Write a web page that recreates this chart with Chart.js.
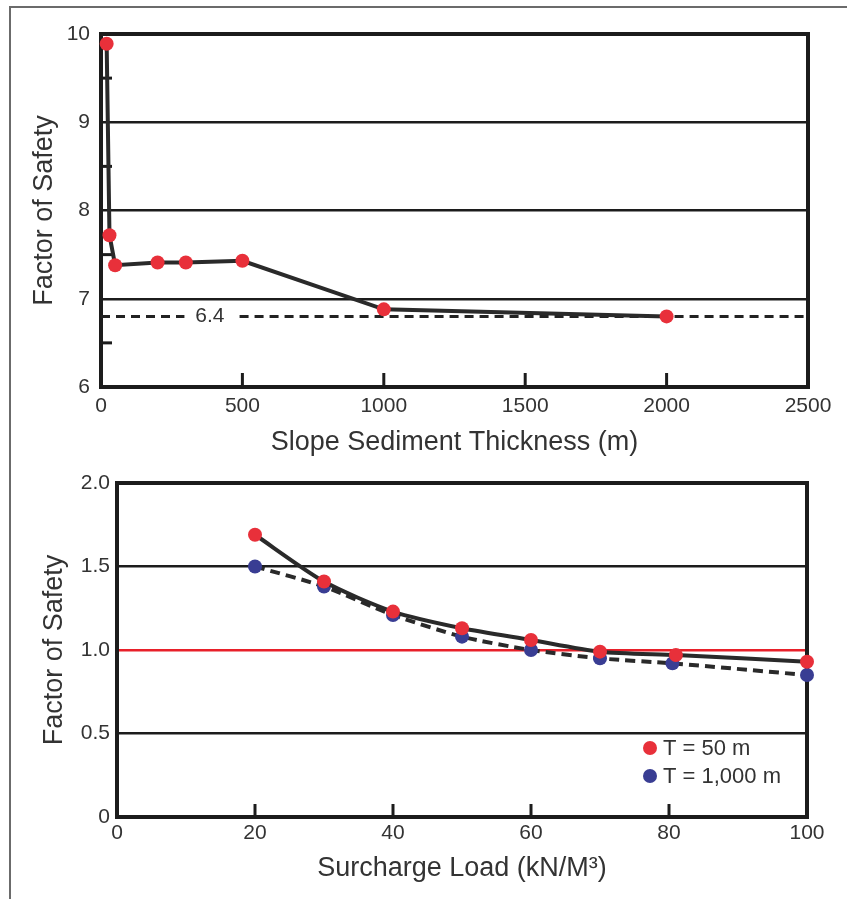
<!DOCTYPE html>
<html><head><meta charset="utf-8">
<script src="https://cdn.jsdelivr.net/npm/chart.js@4/dist/chart.umd.min.js"></script>
<style>
html,body{margin:0;padding:0;background:#fff;}
body{width:847px;height:899px;position:relative;overflow:hidden;}
#frame{position:absolute;left:9px;top:6px;width:860px;height:900px;border-left:2px solid #6b6b6b;border-top:2px solid #6b6b6b;}
#c1{position:absolute;left:0;top:0;}
#c2{position:absolute;left:0;top:460px;}
</style></head><body>
<div id="frame"></div>
<canvas id="c1" width="847" height="460"></canvas>
<canvas id="c2" width="847" height="439"></canvas>
<script>
// ---------- data: top chart ----------
const thicknessM  = [20, 30, 50, 200, 300, 500, 1000, 2000];
const thicknessFS = [9.89, 7.72, 7.38, 7.41, 7.41, 7.43, 6.88, 6.80];
const thresholdFS = 6.8;
const thresholdLabel = '6.4';
const thresholdLabelX = 385;
const thresholdSegments = [[0, 295], [490, 2500]];
const topXTicks = [0, 500, 1000, 1500, 2000, 2500];
const topInnerXTicks = [500, 1000, 1500, 2000];
const topYTicks = [6, 7, 8, 9, 10];
const topMinorYTicks = [6.5, 7.5, 8.5, 9.5];

// ---------- data: bottom chart ----------
const seriesNames = ['T = 50 m', 'T = 1,000 m'];
const loadT50  = [20, 30, 40, 50, 60, 70, 81, 100];
const fsT50    = [1.69, 1.41, 1.23, 1.13, 1.06, 0.99, 0.97, 0.93];
const loadT1000 = [20, 30, 40, 50, 60, 70, 80.5, 100];
const fsT1000   = [1.50, 1.38, 1.21, 1.08, 1.00, 0.95, 0.92, 0.85];
const criticalFS = 1.0;
const bottomXTicks = [0, 20, 40, 60, 80, 100];
const bottomInnerXTicks = [20, 40, 60, 80];
const bottomYTicks = [0, 0.5, 1.0, 1.5, 2.0];

const FONT = '"Liberation Sans", Arial, Helvetica, sans-serif';
const TXT = '#333333';
const INK = '#1c1c1c';
const RED = '#e8303a';
const BLUE = '#393d93';

function framePlugin(opts) {
  return {
    id: 'frameTicks',
    beforeDatasetsDraw(chart) {
      const {ctx, chartArea: a, scales} = chart;
      ctx.save();
      ctx.strokeStyle = INK;
      ctx.lineWidth = 3;
      (opts.innerX || []).forEach(v => {
        const px = scales.x.getPixelForValue(v);
        ctx.beginPath(); ctx.moveTo(px, a.bottom); ctx.lineTo(px, a.bottom - opts.xTickLen); ctx.stroke();
      });
      (opts.minorY || []).forEach(v => {
        const py = scales.y.getPixelForValue(v);
        ctx.beginPath(); ctx.moveTo(a.left, py); ctx.lineTo(a.left + opts.yTickLen, py); ctx.stroke();
      });
      ctx.lineWidth = 4;
      ctx.strokeRect(a.left, a.top, a.right - a.left, a.bottom - a.top);
      if (opts.label) {
        ctx.fillStyle = TXT;
        ctx.font = '21px ' + FONT;
        ctx.textAlign = 'center';
        ctx.textBaseline = 'middle';
        ctx.fillText(opts.label.text, scales.x.getPixelForValue(opts.label.x), scales.y.getPixelForValue(opts.label.y));
      }
      ctx.restore();
    }
  };
}

const legendPlugin = {
  id: 'innerLegend',
  afterDatasetsDraw(chart) {
    const {ctx, chartArea: a} = chart;
    ctx.save();
    ctx.font = '22px ' + FONT;
    ctx.textAlign = 'left';
    ctx.textBaseline = 'middle';
    chart.data.datasets.forEach((ds, i) => {
      const cx = a.right - 157, cy = a.bottom - 69 + i * 28;
      ctx.fillStyle = ds.pointBackgroundColor;
      ctx.beginPath(); ctx.arc(cx, cy, 7, 0, Math.PI * 2); ctx.fill();
      ctx.fillStyle = TXT;
      ctx.fillText(ds.label, cx + 13, cy + 1);
    });
    ctx.restore();
  }
};

// ---------- top chart ----------
const thresholdData = [];
thresholdSegments.forEach((s, i) => {
  if (i > 0) thresholdData.push({x: thresholdLabelX, y: null});
  thresholdData.push({x: s[0], y: thresholdFS}, {x: s[1], y: thresholdFS});
});

new Chart(document.getElementById('c1'), {
  type: 'line',
  data: {
    datasets: [
      {
        label: 'Factor of Safety',
        data: thicknessM.map((x, i) => ({x, y: thicknessFS[i]})),
        borderColor: '#2a2a2a', borderWidth: 4,
        pointRadius: 7, pointBackgroundColor: RED, pointBorderWidth: 0,
        tension: 0, order: 0, clip: false
      },
      {
        label: thresholdLabel,
        data: thresholdData,
        borderColor: '#222', borderWidth: 3, borderDash: [9, 6],
        pointRadius: 0, spanGaps: false, order: 1
      }
    ]
  },
  options: {
    responsive: false, animation: false,
    layout: {padding: {top: 34, right: 39, left: 0, bottom: 0}},
    plugins: {legend: {display: false}, tooltip: {enabled: false}},
    scales: {
      x: {
        type: 'linear', min: 0, max: 2500,
        afterBuildTicks: s => { s.ticks = topXTicks.map(v => ({value: v})); },
        afterFit: s => { s.height = 73; },
        grid: {display: false, drawTicks: false},
        border: {display: false},
        ticks: {color: TXT, font: {family: FONT, size: 21}, padding: 7, maxRotation: 0,
                callback: v => String(v)},
        title: {display: true, text: 'Slope Sediment Thickness (m)', color: TXT,
                font: {family: FONT, size: 27}, padding: {top: 0, bottom: 1}}
      },
      y: {
        type: 'linear', min: 6, max: 10,
        afterBuildTicks: s => { s.ticks = topYTicks.map(v => ({value: v})); },
        afterFit: s => { s.width = 101; },
        grid: {color: INK, lineWidth: 2.5, drawTicks: false},
        border: {display: false},
        ticks: {color: TXT, font: {family: FONT, size: 21}, padding: 11},
        title: {display: true, text: 'Factor of Safety', color: TXT,
                font: {family: FONT, size: 27}, padding: {top: 28, bottom: 0}}
      }
    }
  },
  plugins: [framePlugin({innerX: topInnerXTicks, minorY: topMinorYTicks, xTickLen: 14, yTickLen: 11,
    label: {text: thresholdLabel, x: thresholdLabelX, y: thresholdFS}})]
});

// ---------- bottom chart ----------
new Chart(document.getElementById('c2'), {
  type: 'line',
  data: {
    datasets: [
      {
        label: seriesNames[0],
        data: loadT50.map((x, i) => ({x, y: fsT50[i]})),
        borderColor: '#2a2a2a', borderWidth: 4, tension: 0.25,
        pointRadius: 7, pointBackgroundColor: RED, pointBorderWidth: 0, clip: false
      },
      {
        label: seriesNames[1],
        data: loadT1000.map((x, i) => ({x, y: fsT1000[i]})),
        borderColor: '#2a2a2a', borderWidth: 4, borderDash: [10, 6], tension: 0.25,
        pointRadius: 7, pointBackgroundColor: BLUE, pointBorderWidth: 0, clip: false
      }
    ]
  },
  options: {
    responsive: false, animation: false,
    layout: {padding: {top: 23, right: 40, left: 0, bottom: 0}},
    plugins: {legend: {display: false}, tooltip: {enabled: false}},
    scales: {
      x: {
        type: 'linear', min: 0, max: 100,
        afterBuildTicks: s => { s.ticks = bottomXTicks.map(v => ({value: v})); },
        afterFit: s => { s.height = 82; },
        grid: {display: false, drawTicks: false},
        border: {display: false},
        ticks: {color: TXT, font: {family: FONT, size: 21}, padding: 4, maxRotation: 0,
                callback: v => String(v)},
        title: {display: true, text: 'Surcharge Load (kN/M³)', color: TXT,
                font: {family: FONT, size: 27}, padding: {top: 0, bottom: 14}}
      },
      y: {
        type: 'linear', min: 0, max: 2,
        afterBuildTicks: s => { s.ticks = bottomYTicks.map(v => ({value: v})); },
        afterFit: s => { s.width = 117; },
        grid: {
          color: c => (c.tick && c.tick.value === criticalFS) ? '#e8202a' : INK,
          lineWidth: c => (c.tick && c.tick.value === criticalFS) ? 2.5 : 2.5,
          drawTicks: false
        },
        border: {display: false},
        ticks: {color: TXT, font: {family: FONT, size: 21}, padding: 7,
                callback: v => v === 0 ? '0' : v.toFixed(1)},
        title: {display: true, text: 'Factor of Safety', color: TXT,
                font: {family: FONT, size: 27}, padding: {top: 38, bottom: 0}}
      }
    }
  },
  plugins: [framePlugin({innerX: bottomInnerXTicks, minorY: [], xTickLen: 13, yTickLen: 0}), legendPlugin]
});
</script>
</body></html>
